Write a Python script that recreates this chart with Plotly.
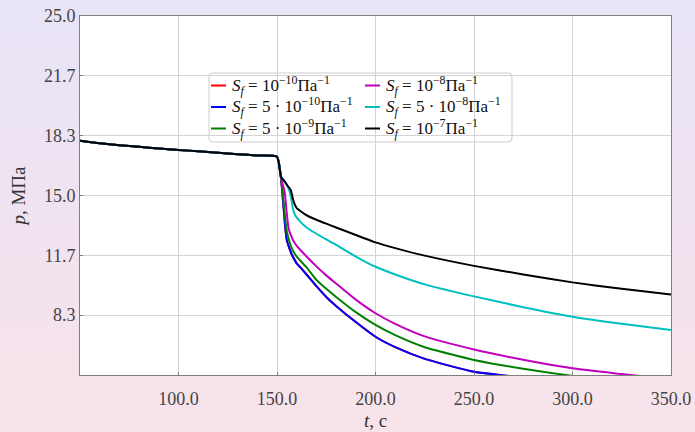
import plotly.graph_objects as go

# ---- data ----
t_vals = [50, 60, 70, 80, 90, 100, 110, 120, 130, 140, 150,
          152, 153, 154, 155, 156, 157, 158, 159, 160, 162, 165, 170, 175, 180,
          190, 200, 210, 225, 250, 275, 300, 325, 350]

plateau = [18.05, 17.91, 17.80, 17.71, 17.62, 17.54, 17.46, 17.38, 17.30, 17.23, 17.16]

p_1e10 = plateau + [16.0, 14.8, 13.45, 12.5, 12.15, 11.85, 11.6, 11.4, 11.22, 10.98, 10.6, 9.95, 9.35, 8.85,
                    7.95, 7.13, 6.55, 5.9, 5.18, 4.85, 4.35, 4.0, 3.7]
p_5e10 = plateau + [16.0, 14.8, 13.45, 12.5, 12.15, 11.85, 11.6, 11.4, 11.22, 10.98, 10.6, 9.95, 9.35, 8.85,
                    7.95, 7.13, 6.55, 5.9, 5.18, 4.85, 4.35, 4.0, 3.7]
p_5e9 = plateau + [16.0, 15.0, 13.9, 13.0, 12.55, 12.2, 11.95, 11.75, 11.59, 11.35, 11.0, 10.3, 9.8, 9.35,
                   8.5, 7.79, 7.22, 6.55, 5.84, 5.35, 4.95, 4.6, 4.3]
p_1e8 = plateau + [16.0, 15.6, 15.12, 13.95, 13.1, 12.8, 12.55, 12.35, 12.2, 11.95, 11.6, 11.05, 10.55, 10.1,
                   9.2, 8.44, 7.85, 7.15, 6.42, 5.85, 5.37, 5.05, 4.75]
p_5e8 = plateau + [16.05, 15.9, 15.75, 15.6, 15.35, 14.95, 14.3, 13.95, 13.78, 13.52, 13.22, 12.87, 12.55, 12.25,
                   11.6, 11.03, 10.6, 10.05, 9.38, 8.78, 8.25, 7.85, 7.51]
p_1e7 = plateau + [16.05, 15.9, 15.77, 15.6, 15.45, 15.3, 14.85, 14.5, 14.3, 14.12, 13.9, 13.65, 13.43, 13.22,
                   12.8, 12.39, 12.07, 11.65, 11.08, 10.6, 10.16, 9.8, 9.49]

names = {
    "1e10": "<i>S<sub>f</sub></i> = 10<sup>−10</sup>Па<sup>−1</sup>",
    "5e10": "<i>S<sub>f</sub></i> = 5 · 10<sup>−10</sup>Па<sup>−1</sup>",
    "5e9": "<i>S<sub>f</sub></i> = 5 · 10<sup>−9</sup>Па<sup>−1</sup>",
    "1e8": "<i>S<sub>f</sub></i> = 10<sup>−8</sup>Па<sup>−1</sup>",
    "5e8": "<i>S<sub>f</sub></i> = 5 · 10<sup>−8</sup>Па<sup>−1</sup>",
    "1e7": "<i>S<sub>f</sub></i> = 10<sup>−7</sup>Па<sup>−1</sup>",
}

x_ticks = [100, 150, 200, 250, 300, 350]
x_tick_text = ["100.0", "150.0", "200.0", "250.0", "300.0", "350.0"]
y_ticks = [25/3, 35/3, 15, 55/3, 65/3, 25]
y_tick_text = ["8.3", "11.7", "15.0", "18.3", "21.7", "25.0"]

# ---- figure ----
W, H = 695, 432
L, R, T, B = 80, 24, 16, 57
pw, ph = W - L - R, H - T - B

def px2paper(x, y):
    return (x - L) / pw, 1 - (y - T) / ph

# order: (key, values, color, legend column, legend row)
series = [
    ("1e10", p_1e10, "#ff0000", 0, 0),
    ("5e10", p_5e10, "#0000ff", 0, 1),
    ("5e9", p_5e9, "#008000", 0, 2),
    ("1e8", p_1e8, "#bf00bf", 1, 0),
    ("5e8", p_5e8, "#00bfbf", 1, 1),
    ("1e7", p_1e7, "#000000", 1, 2),
]

font_family = "Liberation Serif"

fig = go.Figure()
for key, vals, color, col, row in series:
    fig.add_trace(go.Scatter(x=t_vals, y=vals, mode="lines", name=names[key],
                             line=dict(color=color, width=2, shape="spline", smoothing=0.5),
                             showlegend=False))

# legend box (rounded)
x0, y0 = 209, 73
x1, y1 = 512, 142
r = 4
def P(x, y):
    a, b = px2paper(x, y)
    return f"{a:.5f},{b:.5f}"
path = (f"M {P(x0+r, y0)} L {P(x1-r, y0)} Q {P(x1, y0)} {P(x1, y0+r)} "
        f"L {P(x1, y1-r)} Q {P(x1, y1)} {P(x1-r, y1)} L {P(x0+r, y1)} "
        f"Q {P(x0, y1)} {P(x0, y1-r)} L {P(x0, y0+r)} Q {P(x0, y0)} {P(x0+r, y0)} Z")
fig.add_shape(type="path", path=path, xref="paper", yref="paper",
              line=dict(color="#cccccc", width=1), fillcolor="rgba(255,255,255,0.8)",
              layer="between")

# legend entries (sample line + label)
col_sample_x = [211, 365]
col_text_x = [230, 384]
row_y = [85.5, 107, 128.5]
for key, vals, color, col, row in series:
    sx0, sy = px2paper(col_sample_x[col], row_y[row])
    sx1, _ = px2paper(col_sample_x[col] + 15, row_y[row])
    fig.add_shape(type="line", xref="paper", yref="paper", x0=sx0, x1=sx1, y0=sy, y1=sy,
                  line=dict(color=color, width=2), layer="above")
    tx, ty = px2paper(col_text_x[col], row_y[row])
    fig.add_annotation(xref="paper", yref="paper", x=tx, y=ty, text=names[key],
                       showarrow=False, xanchor="left", yanchor="middle",
                       font=dict(family=font_family, size=17, color="#111"))

fig.update_layout(
    width=W, height=H,
    margin=dict(l=L, r=R, t=T, b=B, autoexpand=False),
    paper_bgcolor="rgba(0,0,0,0)",
    plot_bgcolor="white",
    showlegend=False,
    xaxis=dict(range=[50, 350], tickvals=x_ticks, ticktext=x_tick_text,
               showgrid=True, gridcolor="#d4d4d4", gridwidth=1,
               showline=True, linecolor="#7f7f7f", linewidth=1, mirror=True,
               ticks="inside", ticklen=3, tickcolor="#7f7f7f",
               zeroline=False, ticklabelstandoff=7, automargin=False,
               tickfont=dict(family=font_family, size=18, color="#444"),
               title=dict(text="<i>t</i>, с", font=dict(family=font_family, size=19, color="#333"),
                          standoff=6)),
    yaxis=dict(range=[5, 25], tickvals=y_ticks, ticktext=y_tick_text,
               showgrid=True, gridcolor="#d4d4d4", gridwidth=1,
               showline=True, linecolor="#7f7f7f", linewidth=1, mirror=True,
               ticks="inside", ticklen=3, tickcolor="#7f7f7f",
               zeroline=False, automargin=False,
               tickfont=dict(family=font_family, size=18, color="#444"),
               title=dict(text="<i>p</i>, МПа", font=dict(family=font_family, size=19, color="#333"),
                          standoff=13)),
)

post = ("var d=document.getElementById('{plot_id}');"
        "d.style.background='linear-gradient(to bottom, #e8e4f7 0%, #f0e3f0 50%, #f8e3ea 100%)';"
        "document.body.style.margin='0';")
fig.write_html("out.html", post_script=post, config={"responsive": False})
